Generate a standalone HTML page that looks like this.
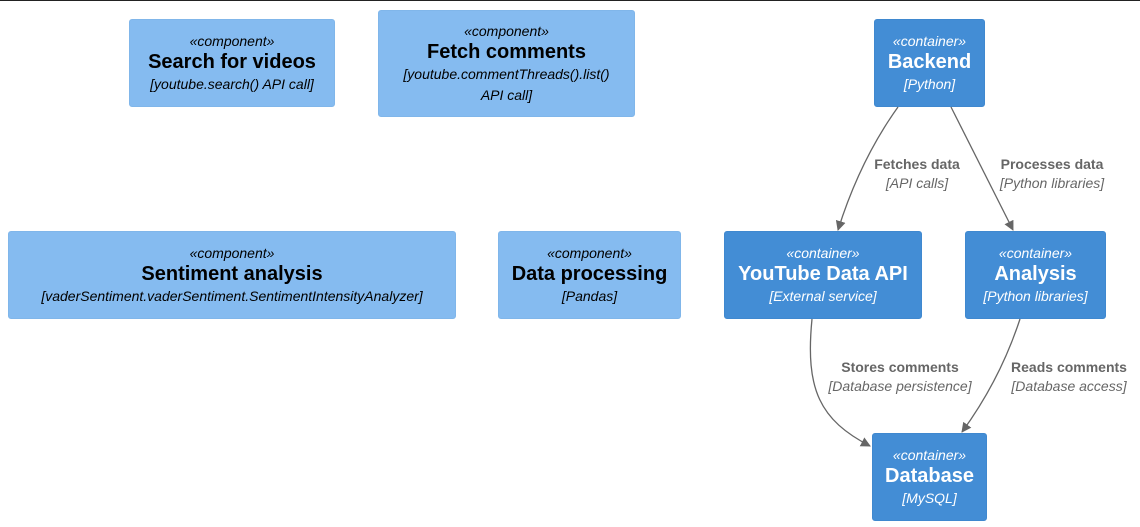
<!DOCTYPE html>
<html><head><meta charset="utf-8"><style>
body{margin:0;width:1140px;height:527px;background:#fff;position:relative;overflow:hidden;font-family:"Liberation Sans",Arial,sans-serif}
.top{position:absolute;left:0;top:0;width:1140px;height:1px;background:#222}
.b{position:absolute;border-radius:3px;display:flex;flex-direction:column;justify-content:center;align-items:center;text-align:center;box-sizing:border-box}
.c{background:#85bbf0;color:#000;border:1px solid #80b6ea}
.k{background:#438dd5;color:#fff;border:1px solid #3f88cf}
.s{font-style:italic;font-size:14px;line-height:20px}
.n{font-weight:bold;font-size:20px;line-height:23px}
.t{font-style:italic;font-size:14px;line-height:21px}
.l{position:absolute;color:#666;text-align:center;font-size:14px;line-height:19px;transform:translateX(-50%);white-space:nowrap}
.l b{display:block}.l i{display:block}
svg{position:absolute;left:0;top:0}
</style></head><body>
<div class="top"></div>
<div class="b c" style="left:129px;top:19px;width:206px;height:88px"><div class="s">«component»</div><div class="n">Search for videos</div><div class="t">[youtube.search() API call]</div></div>
<div class="b c" style="left:378px;top:10px;width:257px;height:107px"><div class="s">«component»</div><div class="n">Fetch comments</div><div class="t">[youtube.commentThreads().list()<br>API call]</div></div>
<div class="b k" style="left:874px;top:19px;width:111px;height:88px"><div class="s">«container»</div><div class="n">Backend</div><div class="t">[Python]</div></div>
<div class="b c" style="left:8px;top:231px;width:448px;height:88px"><div class="s">«component»</div><div class="n">Sentiment analysis</div><div class="t">[vaderSentiment.vaderSentiment.SentimentIntensityAnalyzer]</div></div>
<div class="b c" style="left:498px;top:231px;width:183px;height:88px"><div class="s">«component»</div><div class="n">Data processing</div><div class="t">[Pandas]</div></div>
<div class="b k" style="left:724px;top:231px;width:198px;height:88px"><div class="s">«container»</div><div class="n">YouTube Data API</div><div class="t">[External service]</div></div>
<div class="b k" style="left:965px;top:231px;width:141px;height:88px"><div class="s">«container»</div><div class="n">Analysis</div><div class="t">[Python libraries]</div></div>
<div class="b k" style="left:872px;top:433px;width:115px;height:88px"><div class="s">«container»</div><div class="n">Database</div><div class="t">[MySQL]</div></div>
<svg width="1140" height="527">
<defs><marker id="a" markerWidth="10" markerHeight="10" refX="9" refY="5" orient="auto" markerUnits="userSpaceOnUse"><path d="M0,0 L10,5 L0,10 z" fill="#666"/></marker></defs>
<g fill="none" stroke="#666" stroke-width="1.3" marker-end="url(#a)">
<path d="M898,107 Q860,160 838,230"/>
<path d="M951,107 L1013,230"/>
<path d="M812,319 C805,390 820,420 870,446"/>
<path d="M1020,319 Q1000,380 962,432"/>
</g></svg>
<div class="l" style="left:917px;top:155px"><b>Fetches data</b><i>[API calls]</i></div>
<div class="l" style="left:1052px;top:155px"><b>Processes data</b><i>[Python libraries]</i></div>
<div class="l" style="left:900px;top:358px"><b>Stores comments</b><i>[Database persistence]</i></div>
<div class="l" style="left:1069px;top:358px"><b>Reads comments</b><i>[Database access]</i></div>
</body></html>
